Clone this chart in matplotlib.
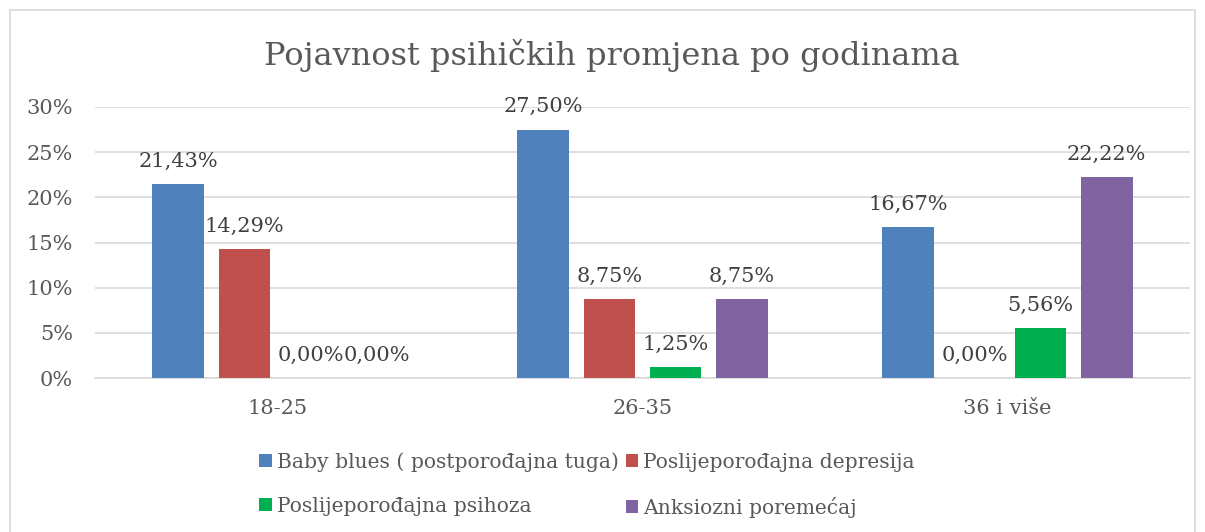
import matplotlib
matplotlib.use("Agg")
import matplotlib.pyplot as plt
from matplotlib.patches import Rectangle
from matplotlib.ticker import FuncFormatter
import numpy as np

categories = ["18-25", "26-35", "36 i više"]
series_names = ["Baby blues ( postporođajna tuga)", "Poslijeporođajna depresija",
                "Poslijeporođajna psihoza", "Anksiozni poremećaj"]
values = [
    [21.43, 27.50, 16.67],
    [14.29, 8.75, 0.00],
    [0.00, 1.25, 5.56],
    [0.00, 8.75, 22.22],
]
colors = ["#4F81BD", "#C0504D", "#00B050", "#8064A2"]
yticks = [0, 5, 10, 15, 20, 25, 30]

TXT = "#595959"
LBL = "#404040"
plt.rcParams['font.family'] = ['DejaVu Serif']

fig = plt.figure(figsize=(12.05, 5.32), dpi=100)
ax = fig.add_axes([95/1205, 1-378/532, 1095/1205, (378-107)/532])

fig.patches.append(Rectangle((10/1205, -0.05), 1185/1205, 1-10/532+0.05,
                             transform=fig.transFigure, fill=False,
                             edgecolor="#D9D9D9", linewidth=1.2))

x = np.arange(len(categories))
width = 0.142
step = 0.181
handles = []
for i, (name, vals, c) in enumerate(zip(series_names, values, colors)):
    off = (i - 1.5) * step
    bars = ax.bar(x + off, vals, width=width, color=c, label=name, zorder=3)
    handles.append(bars)
    for b, v in zip(bars, vals):
        ax.annotate(f"{v:.2f}%".replace(".", ","),
                    (b.get_x() + b.get_width()/2, v),
                    xytext=(0, 9.5), textcoords="offset points",
                    ha="center", va="bottom", fontsize=15, color=LBL)

ax.set_xlim(-0.5, 2.5)
ax.set_ylim(0, 30)
ax.set_yticks(yticks)
ax.yaxis.set_major_formatter(FuncFormatter(lambda v, p: f"{v:.0f}%"))
ax.set_xticks(x)
ax.set_xticklabels(categories)
ax.tick_params(axis="both", length=0, labelsize=15, labelcolor=TXT)
ax.tick_params(axis="y", pad=16)
ax.tick_params(axis="x", pad=15)
ax.grid(axis="y", color="#D9D9D9", linewidth=1.2, zorder=0)
for s in ["top", "right", "left"]:
    ax.spines[s].set_visible(False)
ax.spines["bottom"].set_color("#D9D9D9")
ax.spines["bottom"].set_linewidth(1.2)

fig.text(612/1205, 1-56/532, "Pojavnost psihičkih promjena po godinama",
         ha="center", va="center", fontsize=23, color=TXT)

order = [0, 2, 1, 3]
leg = fig.legend([handles[k] for k in order], [series_names[k] for k in order],
                 loc="center", bbox_to_anchor=(587/1205, 1-485/532), ncol=2,
                 frameon=False, fontsize=14.6, handlelength=0.6, handleheight=0.6,
                 handletextpad=0.25, columnspacing=0.35, labelspacing=1.25)
for t in leg.get_texts():
    t.set_color(TXT)

fig.savefig("out.png", dpi=100)
